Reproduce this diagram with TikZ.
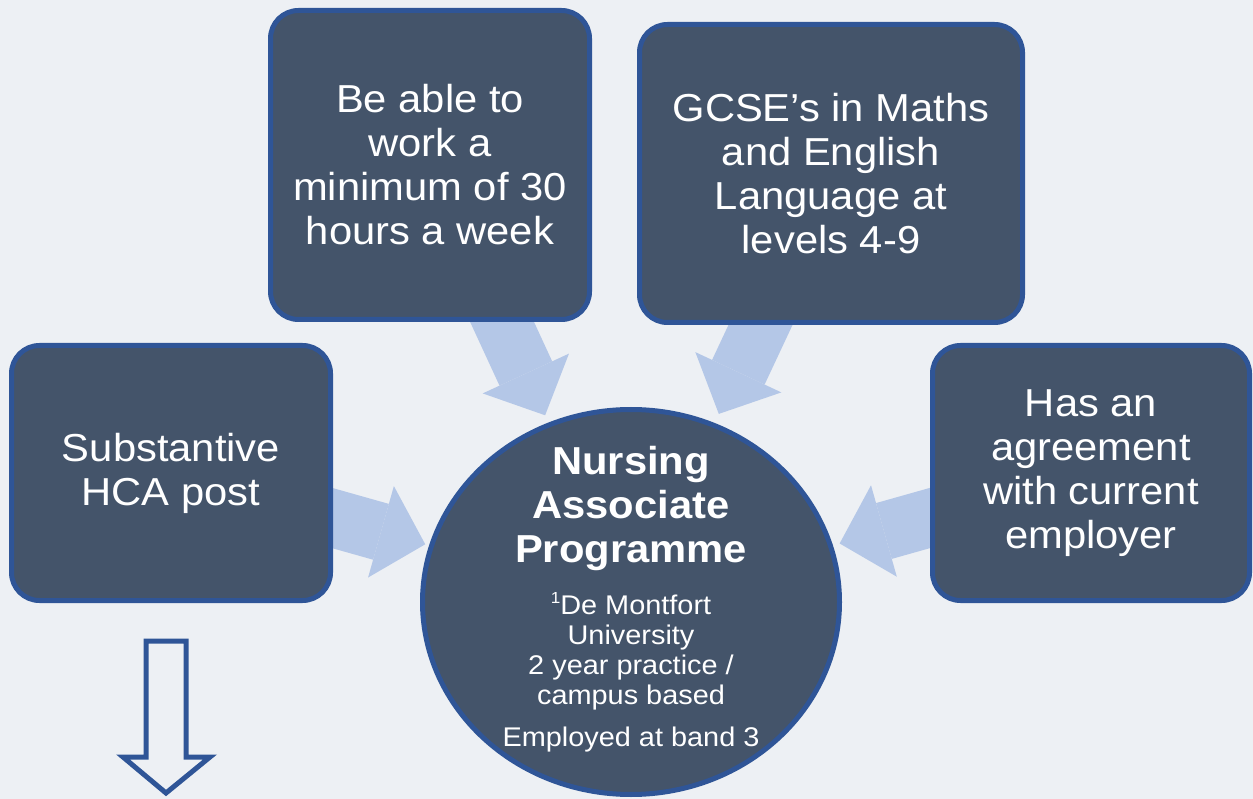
\documentclass[tikz,border=0pt]{standalone}
\usepackage{fontspec}
\setmainfont{Liberation Sans}[FakeStretch=1.07]
\usetikzlibrary{arrows.meta,shapes.geometric}
\definecolor{canvas}{HTML}{EDF0F4}
\definecolor{boxfill}{HTML}{44546A}
\definecolor{boxline}{HTML}{2F5597}
\definecolor{feedblue}{HTML}{B4C7E7}
\pgfdeclarelayer{backdrop}
\pgfdeclarelayer{under}
\pgfsetlayers{backdrop,under,main}
\tikzset{
  reqbox/.style={draw=boxline, line width=5pt, fill=boxfill, rounded corners=28pt,
    text=white, align=center, inner sep=0pt, font=\fontsize{39}{44}\selectfont},
  hubbox/.style={ellipse, draw=boxline, line width=5pt, fill=boxfill,
    minimum width=417pt, minimum height=385pt, inner sep=0pt},
  hubtitle/.style={text=white, align=center, inner sep=0pt, font=\bfseries\fontsize{39}{44}\selectfont},
  hubnote/.style={text=white, align=center, inner sep=0pt, font=\fontsize{27}{30}\selectfont},
  feed/.style={draw=feedblue, line width=58pt, shorten <=-30pt,
    -{Triangle[width=95pt,length=46pt,line width=0pt]}},
  hollow/.style={draw=boxline, line width=5pt, fill=canvas, line join=miter}
}
\newcommand{\notemark}[1]{\raisebox{0.4em}{\fontsize{16}{16}\selectfont #1}}
\begin{document}
\begin{tikzpicture}[x=1pt,y=-1pt]
\begin{pgfonlayer}{backdrop}
\fill[canvas] (0,0) rectangle (1253,799);
\end{pgfonlayer}
\useasboundingbox (0,0) rectangle (1253,799);
% requirement boxes
\node[reqbox, minimum width=319pt, minimum height=255pt] (hca) at (171,473) {Substantive\\HCA post};
\node[reqbox, minimum width=319pt, minimum height=309pt] (hours) at (430,165) {Be able to\\work a\\minimum of 30\\hours a week};
\node[reqbox, minimum width=383pt, minimum height=298pt] (gcse) at (831,173.5) {GCSE’s in Maths\\and English\\Language at\\levels 4-9};
\node[reqbox, minimum width=317pt, minimum height=255pt] (employer) at (1091,473) {Has an\\agreement\\with current\\employer};
% programme
\node[hubbox] (hub) at (631,602) {};
\node[hubtitle] (title) at (631,509) {Nursing\\Associate\\Programme};
\node[hubnote] (uni) at (631,651) {\notemark{1}De Montfort\\University\\2 year practice /\\campus based};
\node[hubnote] (band) at (631,740) {Employed at band 3};
% feeding arrows
\begin{pgfonlayer}{under}
\draw[feed, shorten >=4pt] (hca) -- (hub);
\draw[feed, shorten >=8pt] (hours) -- (hub);
\draw[feed, shorten >=10pt] (gcse) -- (hub);
\draw[feed, shorten >=7pt] (employer) -- (hub);
\end{pgfonlayer}
% down arrow
\draw[hollow] (146,641) -- (186,641) -- (186,757) -- (210,757) -- (166,793) -- (123,757) -- (146,757) -- cycle;
\end{tikzpicture}
\end{document}
